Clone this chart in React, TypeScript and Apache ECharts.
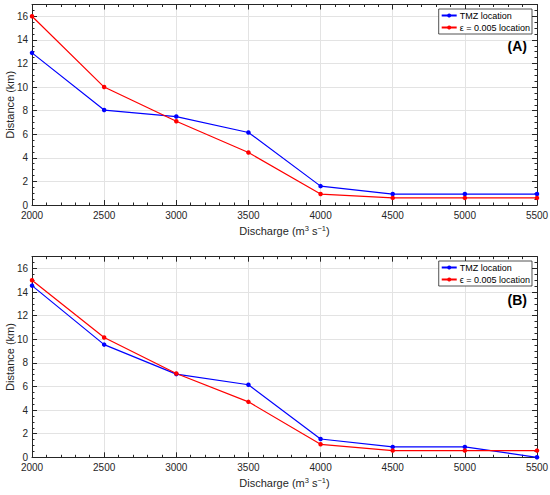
import React, { useEffect, useRef } from "react";
import * as echarts from "echarts";

const discharge = [2000, 2500, 3000, 3500, 4000, 4500, 5000, 5500];
const tmzA = [12.9, 8.05, 7.5, 6.15, 1.6, 0.93, 0.93, 0.93];
const epsA = [16.0, 10.0, 7.1, 4.45, 0.93, 0.6, 0.6, 0.6];
const tmzB = [14.55, 9.55, 7.05, 6.15, 1.55, 0.88, 0.88, 0.0];
const epsB = [15.0, 10.15, 7.1, 4.7, 1.1, 0.57, 0.57, 0.57];

const nameTMZ = "TMZ location";
const nameEpsA = "\u03b5 = 0.005 location";
const nameEpsB = "\u03f5 = 0.005 location";
const panelLabels = ["(A)", "(B)"];
const yTitle = "Distance (km)";

const FONT = "'Liberation Sans', Arial, Helvetica, sans-serif";
const AX = "#262626";
const GRIDC = "#e3e3e3";

const pairs = (ys: number[]) => discharge.map((x, i) => [x, ys[i]]);

function xAxes(g: number) {
  const base = { type: "value", gridIndex: g, min: 2000, max: 5500 };
  return [
    {
      ...base,
      interval: 500,
      position: "bottom",
      axisLine: { show: true, onZero: false, lineStyle: { color: AX, width: 1 } },
      axisTick: { show: true, inside: true, length: 5, lineStyle: { color: AX } },
      axisLabel: { show: true, fontSize: 10, color: AX, fontFamily: FONT, margin: 5, formatter: (v: number) => String(v) },
      splitLine: { show: true, lineStyle: { color: GRIDC, width: 1 } },
      name: "Discharge (m{sup|3} s{sup|\u22121})",
      nameLocation: "middle",
      nameGap: 19,
      nameTextStyle: {
        fontSize: 11,
        color: AX,
        fontFamily: FONT,
        lineHeight: 14,
        rich: { sup: { fontSize: 7.5, verticalAlign: "top", lineHeight: 14, color: AX, fontFamily: FONT } },
      },
    },
    {
      ...base,
      interval: 100,
      position: "bottom",
      axisLine: { show: false, onZero: false },
      axisTick: { show: true, inside: true, length: 2.5, lineStyle: { color: AX } },
      axisLabel: { show: false },
      splitLine: { show: false },
    },
    {
      ...base,
      interval: 500,
      position: "top",
      axisLine: { show: true, onZero: false, lineStyle: { color: AX, width: 1 } },
      axisTick: { show: true, inside: true, length: 5, lineStyle: { color: AX } },
      axisLabel: { show: false },
      splitLine: { show: false },
    },
    {
      ...base,
      interval: 100,
      position: "top",
      axisLine: { show: false, onZero: false },
      axisTick: { show: true, inside: true, length: 2.5, lineStyle: { color: AX } },
      axisLabel: { show: false },
      splitLine: { show: false },
    },
  ];
}

function yAxes(g: number) {
  const base = { type: "value", gridIndex: g, min: 0, max: 17 };
  return [
    {
      ...base,
      interval: 2,
      position: "left",
      axisLine: { show: true, onZero: false, lineStyle: { color: AX, width: 1 } },
      axisTick: { show: true, inside: true, length: 5, lineStyle: { color: AX } },
      axisLabel: {
        show: true,
        fontSize: 10,
        color: AX,
        fontFamily: FONT,
        margin: 4,
        formatter: (v: number) => (v > 16 ? "" : String(v)),
      },
      splitLine: { show: true, lineStyle: { color: GRIDC, width: 1 } },
    },
    {
      ...base,
      interval: 0.5,
      position: "left",
      axisLine: { show: false, onZero: false },
      axisTick: { show: true, inside: true, length: 2.5, lineStyle: { color: AX } },
      axisLabel: { show: false },
      splitLine: { show: false },
    },
    {
      ...base,
      interval: 2,
      position: "right",
      axisLine: { show: true, onZero: false, lineStyle: { color: AX, width: 1 } },
      axisTick: { show: true, inside: true, length: 5, lineStyle: { color: AX } },
      axisLabel: { show: false },
      splitLine: { show: false },
    },
    {
      ...base,
      interval: 0.5,
      position: "right",
      axisLine: { show: false, onZero: false },
      axisTick: { show: true, inside: true, length: 2.5, lineStyle: { color: AX } },
      axisLabel: { show: false },
      splitLine: { show: false },
    },
  ];
}

function lineSeries(name: string, color: string, ys: number[], g: number) {
  return {
    type: "line",
    name,
    xAxisIndex: g * 4,
    yAxisIndex: g * 4,
    data: pairs(ys),
    symbol: "circle",
    symbolSize: 4.5,
    showSymbol: true,
    color,
    itemStyle: { color },
    lineStyle: { color, width: 1.2 },
    emphasis: { disabled: true },
  };
}

function legend(top: number, epsName: string) {
  return {
    orient: "vertical",
    right: 18,
    top,
    data: [nameTMZ, epsName],
    backgroundColor: "#ffffff",
    borderColor: AX,
    borderWidth: 0.8,
    borderRadius: 0,
    padding: [1, 2, 1, 2],
    itemGap: 1,
    itemWidth: 15,
    itemHeight: 5,
    textStyle: { fontSize: 9, color: "#000", fontFamily: FONT, lineHeight: 11, padding: [0, 0, 0, -2] },
    selectedMode: false,
  };
}

function yTitleGraphic(cy: number) {
  return {
    type: "text",
    x: 10,
    y: cy,
    rotation: Math.PI / 2,
    style: { text: yTitle, font: `11px ${FONT}`, fill: AX, textAlign: "center", textVerticalAlign: "middle" },
  };
}

function panelGraphic(label: string, cy: number) {
  return {
    type: "text",
    x: 527,
    y: cy,
    style: { text: label, font: `bold 14px ${FONT}`, fill: "#000", textAlign: "right", textVerticalAlign: "middle" },
  };
}

export default function App() {
  const ref = useRef<HTMLDivElement>(null);
  useEffect(() => {
    document.body.style.margin = "0";
    if (!ref.current) return;
    const chart = echarts.init(ref.current, null, { renderer: "svg" });
    chart.setOption({
      animation: false,
      backgroundColor: "#ffffff",
      grid: [
        { left: 32, right: 13, top: 4.5, height: 200.5, containLabel: false, outerBoundsMode: "none" },
        { left: 32, right: 13, top: 256.7, height: 200.6, containLabel: false, outerBoundsMode: "none" },
      ],
      xAxis: [...xAxes(0), ...xAxes(1)],
      yAxis: [...yAxes(0), ...yAxes(1)],
      legend: [legend(9, nameEpsA), legend(261, nameEpsB)],
      series: [
        lineSeries(nameTMZ, "#0000ff", tmzA, 0),
        lineSeries(nameEpsA, "#ff0000", epsA, 0),
        lineSeries(nameTMZ, "#0000ff", tmzB, 1),
        lineSeries(nameEpsB, "#ff0000", epsB, 1),
      ],
      graphic: [
        yTitleGraphic(104.75),
        yTitleGraphic(357),
        panelGraphic(panelLabels[0], 45.5),
        panelGraphic(panelLabels[1], 299.5),
      ],
    });
    return () => chart.dispose();
  }, []);
  return <div ref={ref} style={{ width: 550, height: 495 }} />;
}
